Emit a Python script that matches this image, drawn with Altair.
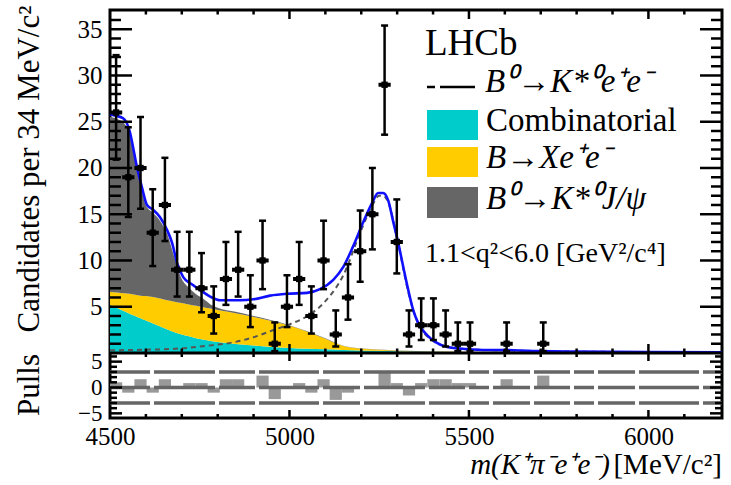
import altair as alt
import pandas as pd

FONT = "Liberation Serif"

# ---------------- values ----------------
# data points (bins of 34 MeV/c^2 that contain candidates)
bin_center = [4517, 4551, 4585, 4619, 4653, 4687, 4721, 4755, 4789, 4823,
              4857, 4891, 4925, 4959, 4993, 5027, 5061, 5095, 5129, 5163,
              5197, 5231, 5265, 5299, 5333, 5367, 5401, 5435, 5469, 5503,
              5605, 5707]
counts = [26, 19, 20, 13, 16, 9, 9, 7, 4, 8,
          9, 5, 10, 1, 5, 8, 4, 10, 2, 6,
          11, 15, 29, 12, 2, 3, 3, 2, 1, 1,
          1, 1]
count_lo = [20.9, 14.7, 15.6, 9.4, 12.1, 6.1, 6.1, 4.4, 2.1, 5.2,
            6.1, 2.8, 6.9, 0.2, 2.8, 5.2, 2.1, 6.9, 0.7, 3.6,
            7.7, 11.2, 23.6, 8.6, 0.7, 1.4, 1.4, 0.7, 0.2, 0.2,
            0.2, 0.2]
count_hi = [32.2, 24.4, 25.5, 17.7, 21.1, 13.1, 13.1, 10.8, 7.2, 12.0,
            13.1, 8.4, 14.3, 3.3, 8.4, 12.0, 7.2, 14.3, 4.6, 9.6,
            15.4, 20.0, 35.4, 16.6, 4.6, 5.9, 5.9, 4.6, 3.3, 3.3,
            3.3, 3.3]

# pulls per bin
pull_center = [4517, 4551, 4585, 4619, 4653, 4687, 4721, 4755, 4789, 4823,
               4857, 4891, 4925, 4959, 4993, 5027, 5061, 5095, 5129, 5163,
               5197, 5231, 5265, 5299, 5333, 5367, 5401, 5435, 5469, 5503,
               5537, 5571, 5605, 5639, 5673, 5707]
pulls = [1.0, -1.0, 1.6, -1.0, 1.6, 0.0, 0.85, 0.85, -1.0, 1.6,
         1.6, 0.0, 2.3, -2.25, 0.0, 0.85, -1.0, 1.6, -2.4, -1.0,
         0.0, 0.0, 2.9, 0.85, -1.55, 0.85, 1.6, 1.6, 0.85, 0.85,
         0.0, 0.0, 1.6, 0.0, 0.0, 2.3]
pull_lines = [3, 0, -3]

# stacked background components
grid = [4500, 4520, 4540, 4555, 4570, 4585, 4600, 4620, 4640, 4660,
        4680, 4700, 4720, 4740, 4760, 4780, 4800, 4850, 4900, 4950,
        5000, 5050, 5100, 5150, 5200, 5250, 5300, 5350, 5400, 5500,
        5600, 5700, 5800, 6000, 6205]
comb = [5.2, 4.85, 4.5, 4.25, 4.0, 3.75, 3.5, 3.2, 2.85, 2.55,
        2.25, 2.0, 1.8, 1.6, 1.45, 1.3, 1.2, 0.98, 0.8, 0.65,
        0.55, 0.47, 0.4, 0.33, 0.28, 0.23, 0.2, 0.17, 0.14, 0.1,
        0.07, 0.05, 0.04, 0.02, 0.01]
xee = [1.4, 1.7, 1.95, 2.15, 2.3, 2.45, 2.65, 2.85, 3.05, 3.15,
       3.3, 3.4, 3.45, 3.5, 3.5, 3.5, 3.45, 3.32, 3.1, 2.8,
       2.4, 1.83, 1.15, 0.42, 0.17, 0.12, 0.05, 0.02, 0.01, 0,
       0, 0, 0, 0, 0]
jpsi = [18.9, 18.75, 18.35, 17.2, 14.4, 12.0, 9.8, 9.1, 8.35, 7.1,
        4.7, 2.6, 1.8, 1.25, 0.9, 0.45, 0.25, 0.15, 0.1, 0.08,
        0.06, 0.05, 0.05, 0.04, 0.04, 0.03, 0.02, 0.02, 0.01, 0.01,
        0, 0, 0, 0, 0]

# total fit (blue)
total_m = [4500, 4510, 4536, 4556, 4564, 4575, 4589, 4603, 4620, 4639,
           4659, 4673, 4687, 4704, 4729, 4751, 4779, 4807, 4862, 4899,
           4946, 4993, 5049, 5085, 5122, 5150, 5177, 5205, 5230, 5247,
           5261, 5275, 5289, 5303, 5317, 5331, 5345, 5359, 5384, 5406,
           5439, 5495, 5551, 5623, 5700, 5800, 6000, 6205]
total_v = [25.8, 25.7, 25.4, 23.8, 22.3, 20.1, 17.9, 16.0, 15.5, 14.7,
           13.3, 11.9, 9.7, 8.2, 7.4, 6.8, 6.1, 5.7, 5.7, 5.8,
           6.2, 6.4, 6.5, 6.9, 7.9, 9.3, 11.5, 14.1, 16.2, 17.3,
           17.3, 16.5, 14.2, 11.9, 9.3, 6.8, 4.6, 3.2, 1.9, 1.2,
           0.65, 0.43, 0.32, 0.3, 0.2, 0.15, 0.1, 0.08]

# signal component (dashed)
signal_m = [4500, 4600, 4700, 4750, 4800, 4850, 4900, 4950, 5000, 5050,
            5100, 5150, 5200, 5230, 5250, 5261, 5275, 5300, 5331, 5350,
            5400, 5450, 5500, 5600, 5700, 6205]
signal_v = [0.3, 0.35, 0.5, 0.7, 0.9, 1.2, 1.7, 2.4, 3.1, 4.0,
            5.6, 8.4, 13.3, 15.9, 17.0, 17.0, 16.3, 12.4, 6.6, 4.0,
            1.3, 0.6, 0.38, 0.28, 0.18, 0.07]

# axis ticks / labels
x_labels = [4500, 5000, 5500, 6000]
x_major = [5000, 5500, 6000]
x_minor = [4600, 4700, 4800, 4900, 5100, 5200, 5300, 5400, 5600, 5700, 5800, 5900, 6100]
y_labels = [5, 10, 15, 20, 25, 30, 35]
y_minor = [v for v in range(1, 37) if v % 5 != 0]
p_labels = [-5, 0, 5]
p_minor = [-4, -3, -2, -1, 1, 2, 3, 4, 6]

comp_names = ["Combinatorial", "B→Xee", "B0→K*0J/psi"]
comp_colors = ["#00CCCC", "#FFCC00", "#666666"]

# ---------------- scales / axes ----------------
W, H = 612, 408
MAIN_BOTTOM = 343  # pixel row of main-panel zero

XSCALE = alt.Scale(domain=[4500, 6205], nice=False, zero=False)
XAXIS = alt.Axis(values=x_labels, format="d", labelFont=FONT, labelFontSize=25,
                 labelColor="black", labelPadding=6, labelFlush=False,
                 ticks=False, tickSize=0, domain=False, grid=False, title=None)
YM_SCALE = alt.Scale(domain=[-7.03, 37.08], nice=False, zero=False)
YM_AXIS = alt.Axis(values=y_labels, orient="left", labelFont=FONT, labelFontSize=25,
                   labelColor="black", labelPadding=8, ticks=False, tickSize=0,
                   domain=False, grid=False, title=None)
YP_SCALE = alt.Scale(domain=[-5.9, 73.0], nice=False, zero=False)
YP_AXIS = alt.Axis(values=p_labels, orient="left", labelFont=FONT, labelFontSize=23,
                   labelColor="black", labelPadding=8, ticks=False, tickSize=0,
                   domain=False, grid=False, title=None)


def X(f):
    return alt.X(f"{f}:Q", scale=XSCALE, axis=XAXIS)


def Ym(f):
    return alt.Y(f"{f}:Q", scale=YM_SCALE, axis=YM_AXIS)


def Yp(f):
    return alt.Y(f"{f}:Q", scale=YP_SCALE, axis=YP_AXIS)


# ---------------- tables ----------------
rows = []
for name, vals, o in zip(comp_names, [comb, xee, jpsi], [0, 1, 2]):
    for m, v in zip(grid, vals):
        rows.append({"m": m, "v": v, "comp": name, "ord": o})
df_bkg = pd.DataFrame(rows)
df_total = pd.DataFrame({"m": total_m, "v": total_v})
df_sig = pd.DataFrame({"m": signal_m, "v": signal_v})
df_pts = pd.DataFrame({"m": bin_center, "n": counts, "lo": count_lo, "hi": count_hi})
df_pts["x0"] = df_pts["m"] - 17
df_pts["x1"] = df_pts["m"] + 17
df_pull = pd.DataFrame({"m": pull_center, "p": pulls})
df_pull["x0"] = df_pull["m"] - 17
df_pull["x1"] = df_pull["m"] + 17
df_pull["z"] = 0.0
df_pull = df_pull[df_pull["p"] != 0]
one = pd.DataFrame({"k": [0]})

# ---------------- main panel ----------------
areas = alt.Chart(df_bkg).mark_area(interpolate="monotone", opacity=1).encode(
    x=X("m"),
    y=alt.Y("v:Q", stack="zero", scale=YM_SCALE, axis=YM_AXIS),
    color=alt.Color("comp:N", scale=alt.Scale(domain=comp_names, range=comp_colors), legend=None),
    order=alt.Order("ord:Q", sort="ascending"),
)
sig_line = alt.Chart(df_sig).mark_line(interpolate="monotone", color="#555555",
                                       strokeWidth=2, strokeDash=[5, 4]).encode(x=X("m"), y=Ym("v"))
tot_line = alt.Chart(df_total).mark_line(interpolate="monotone", color="#1010ff",
                                         strokeWidth=2.6).encode(x=X("m"), y=Ym("v"))

err = alt.Chart(df_pts).mark_rule(color="black", strokeWidth=2.5).encode(x=X("m"), y=Ym("lo"), y2="hi")
cap_lo = alt.Chart(df_pts).mark_tick(orient="horizontal", size=7, thickness=2.5, color="black",
                                     opacity=1).encode(x=X("m"), y=Ym("lo"))
cap_hi = alt.Chart(df_pts).mark_tick(orient="horizontal", size=7, thickness=2.5, color="black",
                                     opacity=1).encode(x=X("m"), y=Ym("hi"))
hbar = alt.Chart(df_pts).mark_rule(color="black", strokeWidth=4).encode(x=X("x0"), x2="x1", y=Ym("n"))
sq = alt.Chart(df_pts).mark_square(size=40, color="black", opacity=1).encode(x=X("m"), y=Ym("n"))

midline = alt.Chart(pd.DataFrame({"v": [0]})).mark_rule(color="black", strokeWidth=3).encode(y=Ym("v"))


def vticks(vals, y0, length):
    return alt.Chart(pd.DataFrame({"m": vals})).mark_rule(color="black", strokeWidth=2.5).encode(
        x=X("m"), y=alt.value(y0), y2=alt.value(y0 + length))


def hticks(vals, yfn, x0, length):
    return alt.Chart(pd.DataFrame({"v": vals})).mark_rule(color="black", strokeWidth=2.5).encode(
        y=yfn("v"), x=alt.value(x0), x2=alt.value(x0 + length))


main_ticks = [
    vticks(x_minor, 0, 4.5), vticks(x_major, 0, 9),
    vticks(x_minor, MAIN_BOTTOM, -4.5), vticks(x_major, MAIN_BOTTOM, -9),
    hticks(y_minor, Ym, 0, 11), hticks(y_labels, Ym, 0, 22),
    hticks(y_minor, Ym, W, -11), hticks(y_labels, Ym, W, -22),
]


def text(s, x, y, size, align="left", style="normal", angle=0, baseline="alphabetic"):
    kw = dict(text=s, font=FONT, fontSize=size, align=align, fontStyle=style,
              baseline=baseline, color="black")
    if angle:
        kw["angle"] = angle
    return alt.Chart(one).mark_text(**kw).encode(x=alt.value(x), y=alt.value(y))


def box(x0, x1, y0, y1, c):
    return alt.Chart(one).mark_rect(color=c, opacity=1).encode(
        x=alt.value(x0), x2=alt.value(x1), y=alt.value(y0), y2=alt.value(y1))


legend = [
    text("LHCb", 315, 45, 37),
    alt.Chart(one).mark_rule(color="black", strokeWidth=2.5, strokeDash=[8, 5, 60, 5]).encode(
        x=alt.value(317), x2=alt.value(365), y=alt.value(77)),
    text("B⁰→K*⁰e⁺e⁻", 375, 82, 33, style="italic"),
    box(317, 368, 100, 130, comp_colors[0]),
    text("Combinatorial", 376, 121, 33),
    box(317, 368, 137, 167, comp_colors[1]),
    text("B→Xe⁺e⁻", 376, 158, 33, style="italic"),
    box(317, 368, 177, 208, comp_colors[2]),
    text("B⁰→K*⁰J/ψ", 376, 199, 33, style="italic"),
    text("1.1<q²<6.0 [GeV²/c⁴]", 315, 252, 28),
    text("Candidates per 34 MeV/c²", -80, 159, 31, align="center", angle=270, baseline="middle"),
    text("Pulls", -80, 375, 31, align="center", angle=270, baseline="middle"),
    text("m(K⁺π⁻e⁺e⁻)", 500, 464, 29, align="right", style="italic"),
    text("[MeV/c²]", W, 464, 29, align="right"),
]

main = alt.layer(areas, sig_line, tot_line, err, cap_lo, cap_hi, hbar, sq,
                 midline, *main_ticks, *legend)

# ---------------- pulls panel ----------------
pbars = alt.Chart(df_pull).mark_rect(color="#999999", opacity=1).encode(
    x=X("x0"), x2="x1", y=Yp("z"), y2="p")
DASH = [19, 4, 60, 4, 37, 4, 20, 4, 36, 4, 37, 4, 20, 4, 36, 4, 61, 4, 37, 4, 60, 4, 36, 4, 61, 4, 60]
plines = alt.Chart(pd.DataFrame({"v": pull_lines})).mark_rule(
    color="#666666", strokeWidth=3.3, strokeDash=DASH).encode(y=Yp("v"))
pull_ticks = [
    vticks(x_minor, MAIN_BOTTOM, 4), vticks(x_major, MAIN_BOTTOM, 8),
    vticks(x_minor, H, -4), vticks(x_major, H, -8),
    hticks(p_minor, Yp, 0, 7), hticks(p_labels, Yp, 0, 12),
    hticks(p_minor, Yp, W, -7), hticks(p_labels, Yp, W, -12),
]
pull_panel = alt.layer(pbars, plines, *pull_ticks)

chart = alt.layer(main, pull_panel).resolve_scale(y="independent").resolve_axis(
    y="independent").properties(
    width=W, height=H,
    autosize=alt.AutoSizeParams(type="none"),
    padding={"left": 110, "top": 10, "right": 9, "bottom": 67},
).configure_view(stroke="black", strokeWidth=3)

chart.save("out.html", embed_options={"renderer": "svg", "actions": False})
